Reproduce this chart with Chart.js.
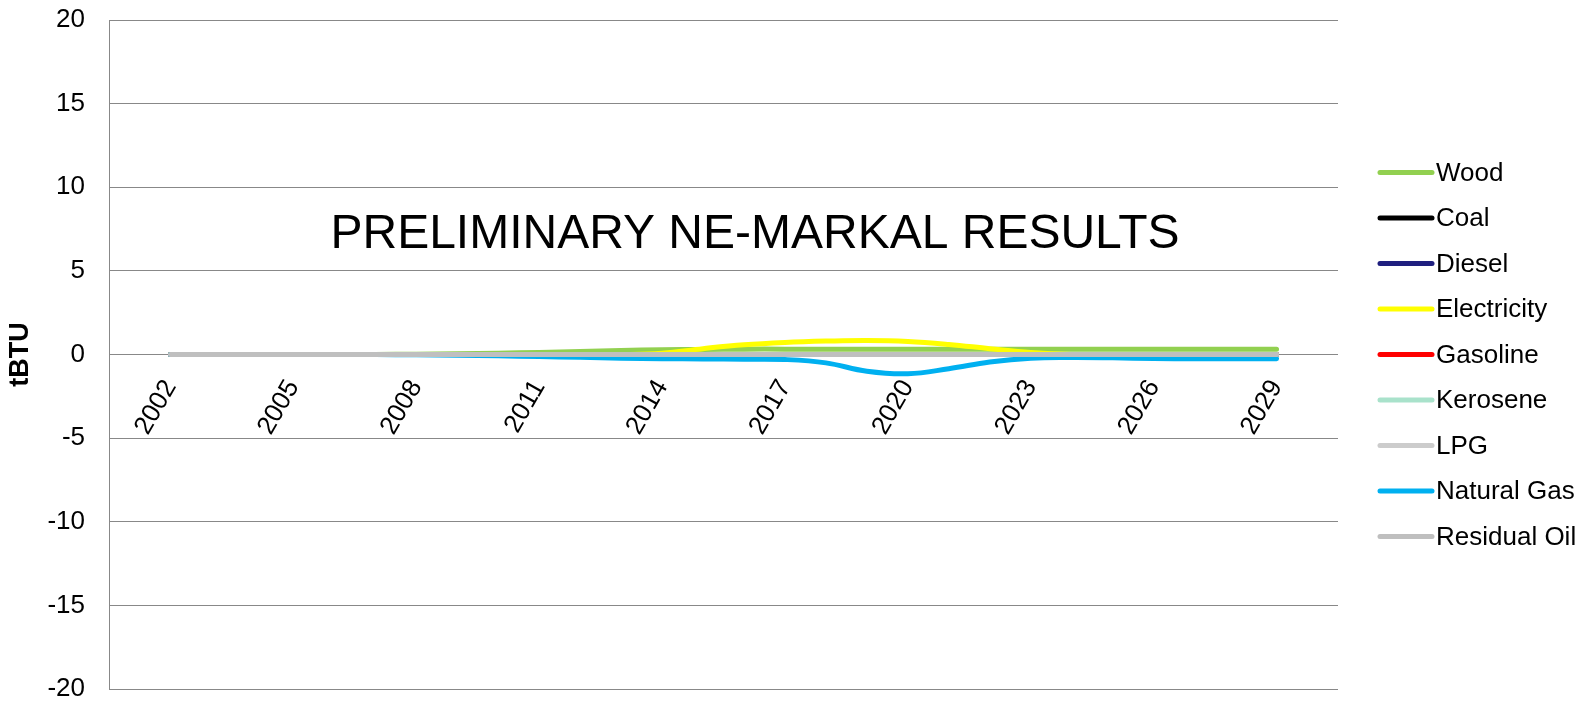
<!DOCTYPE html>
<html>
<head>
<meta charset="utf-8">
<title>Preliminary NE-MARKAL results</title>
<script src="https://cdn.jsdelivr.net/npm/chart.js@4"></script>
<style>
  html, body { margin: 0; padding: 0; background: #fff; }
  #wrap { width: 1592px; height: 703px; position: relative; }
</style>
</head>
<body>
<div id="wrap"><canvas id="chart"></canvas></div>
<script>
// years on the x axis, and which of them get a label
const years = [2002, 2003, 2004, 2005, 2006, 2007, 2008, 2009, 2010, 2011, 2012, 2013, 2014, 2015,
  2016, 2017, 2018, 2019, 2020, 2021, 2022, 2023, 2024, 2025, 2026, 2027, 2028, 2029];
const tickYears = [2002, 2005, 2008, 2011, 2014, 2017, 2020, 2023, 2026, 2029];
const yTicks = [-20, -15, -10, -5, 0, 5, 10, 15, 20];

// tBTU
const wood = [0, 0, 0, 0, 0, 0, 0.02, 0.05, 0.08, 0.12, 0.18, 0.24, 0.28, 0.3,
  0.32, 0.32, 0.32, 0.32, 0.32, 0.32, 0.32, 0.32, 0.32, 0.32, 0.32, 0.32, 0.32, 0.32];
const coal = [0, 0, 0, 0, 0, 0, 0, 0, 0, 0, 0, 0, 0, 0,
  0, 0, 0, 0, 0, 0, 0, 0, 0, 0, 0, 0, 0, 0];
const diesel = [0, 0, 0, 0, 0, 0, 0, 0, 0, 0, 0, 0, 0, 0,
  0, 0, 0, 0, 0, 0, 0, 0, 0, 0, 0, 0, 0, 0];
const electricity = [0, 0, 0, 0, 0, 0, 0, 0, 0, 0, 0, 0, 0.08, 0.35,
  0.58, 0.72, 0.8, 0.84, 0.78, 0.6, 0.35, 0.12, 0, 0, 0, 0, 0, 0];
const gasoline = [0, 0, 0, 0, 0, 0, 0, 0, 0, 0, 0, 0, 0, 0,
  0, 0, 0, 0, 0, 0, 0, 0, 0, 0, 0, 0, 0, 0];
const kerosene = [0, 0, 0, 0, 0, 0, 0, 0, 0, 0, 0, 0, 0, 0,
  0, 0, 0, 0, 0, 0, 0, 0, 0, 0, 0, 0, 0, 0];
const lpg = [0, 0, 0, 0, 0, 0, 0, 0, 0, 0, 0, 0, 0, 0,
  0, 0, 0, 0, 0, 0, 0, 0, 0, 0, 0, 0, 0, 0];
const naturalGas = [0, 0, 0, 0, 0, 0, -0.02, -0.05, -0.08, -0.12, -0.17, -0.22, -0.25, -0.27,
  -0.28, -0.3, -0.5, -1.0, -1.15, -0.85, -0.45, -0.22, -0.18, -0.2, -0.24, -0.25, -0.25, -0.26];
const residualOil = [0, 0, 0, 0, 0, 0, 0, 0, 0, 0, 0, 0, 0, 0,
  0, 0, 0, 0, 0, 0, 0, 0, 0, 0, 0, 0, 0, 0];

const seriesNames = ['Wood', 'Coal', 'Diesel', 'Electricity', 'Gasoline', 'Kerosene', 'LPG', 'Natural Gas', 'Residual Oil'];
const seriesData = [wood, coal, diesel, electricity, gasoline, kerosene, lpg, naturalGas, residualOil];
const seriesColors = ['#92D050', '#000000', '#1F1F7F', '#FFFF00', '#FF0000', '#A9E2CB', '#CCCCCC', '#00B0F0', '#BFBFBF'];

const FONT = "'Liberation Sans', Arial, sans-serif";
const GRID = '#888888';

// legend drawn by hand: short thick line, then the name right after it
const lineLegend = {
  id: 'lineLegend',
  afterDraw(chart) {
    const ctx = chart.ctx;
    const x0 = chart.chartArea.right + 40;
    ctx.save();
    ctx.font = '26px ' + FONT;
    ctx.textBaseline = 'middle';
    ctx.textAlign = 'left';
    chart.data.datasets.forEach((ds, i) => {
      const y = 172.5 + i * 45.5;
      ctx.strokeStyle = ds.borderColor;
      ctx.lineWidth = 5;
      ctx.lineCap = 'round';
      ctx.beginPath();
      ctx.moveTo(x0 + 2, y);
      ctx.lineTo(x0 + 54, y);
      ctx.stroke();
      ctx.fillStyle = '#000';
      ctx.fillText(ds.label, x0 + 58, y + 1);
    });
    ctx.restore();
  }
};

// big caption across the middle of the plot
const caption = {
  id: 'caption',
  afterDatasetsDraw(chart) {
    const ctx = chart.ctx;
    ctx.save();
    ctx.font = '48px ' + FONT;
    ctx.fillStyle = '#000';
    ctx.textAlign = 'center';
    ctx.textBaseline = 'alphabetic';
    ctx.fillText('PRELIMINARY NE-MARKAL RESULTS', 755, 248);
    ctx.restore();
  }
};

const datasets = seriesNames.map((name, i) => ({
  label: name,
  data: years.map((yr, j) => ({ x: yr, y: seriesData[i][j] })),
  borderColor: seriesColors[i],
  backgroundColor: seriesColors[i],
  borderWidth: 5,
  borderCapStyle: 'round',
  borderJoinStyle: 'round',
  pointRadius: 0,
  tension: 0.4,
  // later series sit on top, as in the original
  order: seriesNames.length - i,
}));

new Chart(document.getElementById('chart'), {
  type: 'line',
  data: { datasets },
  options: {
    responsive: true,
    maintainAspectRatio: false,
    animation: false,
    layout: { padding: { left: 0, right: 254, top: 20, bottom: 14 } },
    plugins: {
      legend: { display: false },
      tooltip: { enabled: false },
    },
    scales: {
      x: {
        type: 'linear',
        position: { y: 0 },
        min: years[0] - 1.5,
        max: years[years.length - 1] + 1.5,
        afterBuildTicks: (scale) => { scale.ticks = tickYears.map((v) => ({ value: v })); },
        afterFit: (scale) => {
          scale.height = 0;
          scale.paddingLeft = 0;
          scale.paddingRight = 0;
        },
        grid: { display: false, drawTicks: false },
        border: { display: false },
        ticks: {
          autoSkip: false,
          maxRotation: 60,
          minRotation: 60,
          padding: 20,
          color: '#000',
          font: { family: FONT, size: 26 },
          callback: (v) => String(v),
        },
      },
      y: {
        min: yTicks[0],
        max: yTicks[yTicks.length - 1],
        afterBuildTicks: (scale) => { scale.ticks = yTicks.map((v) => ({ value: v })); },
        afterFit: (scale) => {
          scale.width = 109;
          scale.paddingTop = 0;
          scale.paddingBottom = 0;
        },
        grid: { color: GRID, lineWidth: 1, drawTicks: false },
        border: { color: GRID, width: 1 },
        ticks: {
          padding: 24,
          color: '#000',
          font: { family: FONT, size: 26 },
        },
        title: {
          display: true,
          text: 'tBTU',
          color: '#000',
          font: { family: FONT, size: 27, weight: 'bold' },
          padding: { top: 4, bottom: 0 },
        },
      },
    },
  },
  plugins: [lineLegend, caption],
});
</script>
</body>
</html>
